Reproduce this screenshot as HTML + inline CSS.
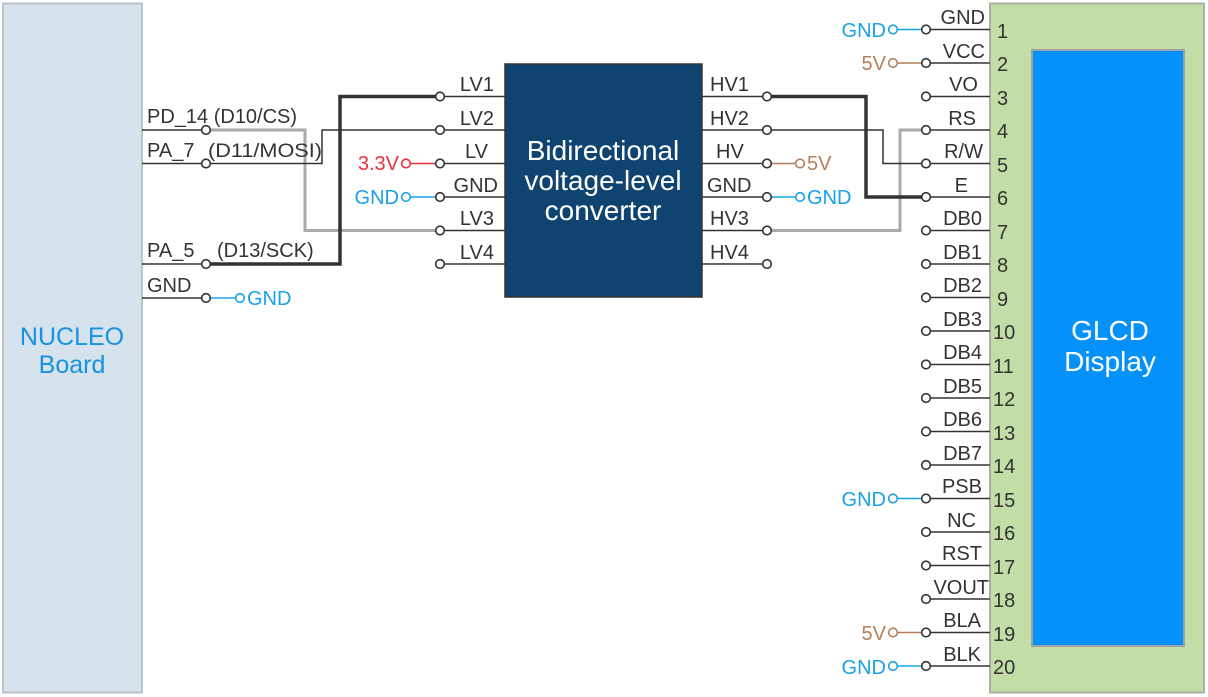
<!DOCTYPE html>
<html><head><meta charset="utf-8"><style>
html,body{margin:0;padding:0;background:#fff}
svg{display:block;font-family:"Liberation Sans",Arial,sans-serif}
</style></head><body>
<svg width="1208" height="697" viewBox="0 0 1208 697" xmlns="http://www.w3.org/2000/svg">
<rect x="3" y="3.5" width="139" height="689" fill="#d6e2ec" stroke="#bcc3c8" stroke-width="2"/>
<text x="72" y="345" font-size="25" fill="#1592e0" text-anchor="middle">NUCLEO</text>
<text x="72" y="373" font-size="25" fill="#1592e0" text-anchor="middle">Board</text>

<rect x="505" y="64" width="197" height="233" fill="#0f4470" stroke="#333" stroke-width="1.5"/>
<g font-size="28" fill="#fff" text-anchor="middle">
<text x="603" y="160">Bidirectional</text>
<text x="603" y="190">voltage-level</text>
<text x="603" y="220">converter</text>
</g>

<rect x="990" y="3.5" width="214" height="689" fill="#c2dea6" stroke="#a9b0a4" stroke-width="2"/>
<rect x="1032" y="50" width="152" height="596" fill="#0591fa" stroke="#a0a0a0" stroke-width="2"/>
<text x="1110" y="340" font-size="28" fill="#fff" text-anchor="middle">GLCD</text>
<text x="1110" y="371" font-size="28" fill="#fff" text-anchor="middle">Display</text>

<g fill="none" stroke-linejoin="miter">
<polyline points="206,130 305,130 305,230.5 440,230.5" stroke="#aaa" stroke-width="3"/>
<polyline points="206,163.5 322,163.5 322,130 440,130" stroke="#333" stroke-width="1.5"/>
<polyline points="206,264 340,264 340,96.5 440,96.5" stroke="#333" stroke-width="3.5"/>
<polyline points="767,230.5 900,230.5 900,130 926,130" stroke="#aaa" stroke-width="3"/>
<polyline points="767,130 883,130 883,163.5 926,163.5" stroke="#333" stroke-width="1.5"/>
<polyline points="767,96.5 866,96.5 866,197 926,197" stroke="#333" stroke-width="3.5"/>
</g>

<g stroke="#333" stroke-width="1.5">
<line x1="142" y1="130" x2="206" y2="130"/>
<line x1="142" y1="163.5" x2="206" y2="163.5"/>
<line x1="142" y1="264" x2="206" y2="264"/>
<line x1="142" y1="298" x2="206" y2="298"/>
<line x1="440" y1="96.5" x2="505" y2="96.5"/>
<line x1="440" y1="130" x2="505" y2="130"/>
<line x1="440" y1="163.5" x2="505" y2="163.5"/>
<line x1="440" y1="197" x2="505" y2="197"/>
<line x1="440" y1="230.5" x2="505" y2="230.5"/>
<line x1="440" y1="264" x2="505" y2="264"/>
<line x1="702" y1="96.5" x2="767" y2="96.5"/>
<line x1="702" y1="130" x2="767" y2="130"/>
<line x1="702" y1="163.5" x2="767" y2="163.5"/>
<line x1="702" y1="197" x2="767" y2="197"/>
<line x1="702" y1="230.5" x2="767" y2="230.5"/>
<line x1="702" y1="264" x2="767" y2="264"/>
</g>
<g stroke="#333" stroke-width="1.5">
<line x1="926" y1="29.5" x2="990" y2="29.5"/><line x1="926" y1="63" x2="990" y2="63"/>
<line x1="926" y1="96.5" x2="990" y2="96.5"/><line x1="926" y1="130" x2="990" y2="130"/>
<line x1="926" y1="163.5" x2="990" y2="163.5"/><line x1="926" y1="197" x2="990" y2="197"/>
<line x1="926" y1="230.5" x2="990" y2="230.5"/><line x1="926" y1="264" x2="990" y2="264"/>
<line x1="926" y1="297.5" x2="990" y2="297.5"/><line x1="926" y1="331" x2="990" y2="331"/>
<line x1="926" y1="364.5" x2="990" y2="364.5"/><line x1="926" y1="398" x2="990" y2="398"/>
<line x1="926" y1="431.5" x2="990" y2="431.5"/><line x1="926" y1="465" x2="990" y2="465"/>
<line x1="926" y1="498.5" x2="990" y2="498.5"/><line x1="926" y1="532" x2="990" y2="532"/>
<line x1="926" y1="565.5" x2="990" y2="565.5"/><line x1="926" y1="599" x2="990" y2="599"/>
<line x1="926" y1="632.5" x2="990" y2="632.5"/><line x1="926" y1="666" x2="990" y2="666"/>
</g>

<g stroke-width="1.5">
<line x1="206" y1="298" x2="240" y2="298" stroke="#19a3e6"/>
<line x1="406" y1="163.5" x2="440" y2="163.5" stroke="#e8303a"/>
<line x1="406" y1="197" x2="440" y2="197" stroke="#19a3e6"/>
<line x1="767" y1="163.5" x2="800" y2="163.5" stroke="#b57f5a"/>
<line x1="767" y1="197" x2="800" y2="197" stroke="#19a3e6"/>
<line x1="893" y1="29.5" x2="926" y2="29.5" stroke="#19a3e6"/>
<line x1="893" y1="63" x2="926" y2="63" stroke="#b57f5a"/>
<line x1="893" y1="498.5" x2="926" y2="498.5" stroke="#19a3e6"/>
<line x1="893" y1="632.5" x2="926" y2="632.5" stroke="#b57f5a"/>
<line x1="893" y1="666" x2="926" y2="666" stroke="#19a3e6"/>
</g>

<g fill="#fff" stroke="#333" stroke-width="1.6">
<circle cx="206" cy="130" r="4.3"/><circle cx="206" cy="163.5" r="4.3"/>
<circle cx="206" cy="264" r="4.3"/><circle cx="206" cy="298" r="4.3"/>
<circle cx="440" cy="96.5" r="4.3"/><circle cx="440" cy="130" r="4.3"/>
<circle cx="440" cy="163.5" r="4.3"/><circle cx="440" cy="197" r="4.3"/>
<circle cx="440" cy="230.5" r="4.3"/><circle cx="440" cy="264" r="4.3"/>
<circle cx="767" cy="96.5" r="4.3"/><circle cx="767" cy="130" r="4.3"/>
<circle cx="767" cy="163.5" r="4.3"/><circle cx="767" cy="197" r="4.3"/>
<circle cx="767" cy="230.5" r="4.3"/><circle cx="767" cy="264" r="4.3"/>
<circle cx="926" cy="29.5" r="4.3"/><circle cx="926" cy="63" r="4.3"/>
<circle cx="926" cy="96.5" r="4.3"/><circle cx="926" cy="130" r="4.3"/>
<circle cx="926" cy="163.5" r="4.3"/><circle cx="926" cy="197" r="4.3"/>
<circle cx="926" cy="230.5" r="4.3"/><circle cx="926" cy="264" r="4.3"/>
<circle cx="926" cy="297.5" r="4.3"/><circle cx="926" cy="331" r="4.3"/>
<circle cx="926" cy="364.5" r="4.3"/><circle cx="926" cy="398" r="4.3"/>
<circle cx="926" cy="431.5" r="4.3"/><circle cx="926" cy="465" r="4.3"/>
<circle cx="926" cy="498.5" r="4.3"/><circle cx="926" cy="532" r="4.3"/>
<circle cx="926" cy="565.5" r="4.3"/><circle cx="926" cy="599" r="4.3"/>
<circle cx="926" cy="632.5" r="4.3"/><circle cx="926" cy="666" r="4.3"/>
</g>
<g fill="#fff" stroke-width="1.6">
<circle cx="240" cy="298" r="4.3" stroke="#19a3e6"/>
<circle cx="406" cy="163.5" r="4.3" stroke="#e8303a"/>
<circle cx="406" cy="197" r="4.3" stroke="#19a3e6"/>
<circle cx="800" cy="163.5" r="4.3" stroke="#b57f5a"/>
<circle cx="800" cy="197" r="4.3" stroke="#19a3e6"/>
<circle cx="893" cy="29.5" r="4.3" stroke="#19a3e6"/>
<circle cx="893" cy="63" r="4.3" stroke="#b57f5a"/>
<circle cx="893" cy="498.5" r="4.3" stroke="#19a3e6"/>
<circle cx="893" cy="632.5" r="4.3" stroke="#b57f5a"/>
<circle cx="893" cy="666" r="4.3" stroke="#19a3e6"/>
</g>

<g font-size="20" fill="#333">
<text x="147" y="123">PD_14 (D10/CS)</text>
<text x="147" y="157">PA_7</text>
<text x="208" y="157" font-size="19" textLength="114" lengthAdjust="spacingAndGlyphs">(D11/MOSI)</text>
<text x="147" y="257">PA_5</text>
<text x="217" y="257">(D13/SCK)</text>
<text x="147" y="292">GND</text>
</g>
<text x="247" y="305" font-size="20" fill="#19a3e6">GND</text>
<text x="399" y="170" font-size="20" fill="#e8303a" text-anchor="end">3.3V</text>
<text x="399" y="204" font-size="20" fill="#19a3e6" text-anchor="end">GND</text>
<text x="807" y="170" font-size="20" fill="#b57f5a">5V</text>
<text x="807" y="204" font-size="20" fill="#19a3e6">GND</text>

<g font-size="20" fill="#333" text-anchor="end">
<text x="494" y="91">LV1</text><text x="494" y="125">LV2</text>
<text x="488" y="158">LV</text><text x="498" y="192">GND</text>
<text x="494" y="225">LV3</text><text x="494" y="259">LV4</text>
</g>
<g font-size="20" fill="#333">
<text x="710" y="91">HV1</text><text x="710" y="125">HV2</text>
<text x="716" y="158">HV</text><text x="707" y="192">GND</text>
<text x="710" y="225">HV3</text><text x="710" y="259">HV4</text>
</g>

<g font-size="20" fill="#333" text-anchor="end">
<text x="985" y="24">GND</text><text x="985" y="58">VCC</text>
<text x="978" y="91">VO</text><text x="976" y="125">RS</text>
<text x="983" y="158">R/W</text><text x="968" y="192">E</text>
<text x="982" y="225">DB0</text><text x="982" y="259">DB1</text>
<text x="982" y="292">DB2</text><text x="982" y="326">DB3</text>
<text x="982" y="359">DB4</text><text x="982" y="393">DB5</text>
<text x="982" y="426">DB6</text><text x="982" y="460">DB7</text>
<text x="982" y="493">PSB</text><text x="976" y="527">NC</text>
<text x="982" y="560">RST</text><text x="989" y="594">VOUT</text>
<text x="981" y="627">BLA</text><text x="981" y="661">BLK</text>
</g>
<g font-size="20" fill="#19a3e6" text-anchor="end">
<text x="886" y="37">GND</text><text x="886" y="506">GND</text><text x="886" y="674">GND</text>
</g>
<g font-size="20" fill="#b57f5a" text-anchor="end">
<text x="886" y="70">5V</text><text x="886" y="640">5V</text>
</g>
<g font-size="20" fill="#333">
<text x="997" y="38">1</text><text x="997" y="71">2</text><text x="997" y="105">3</text>
<text x="997" y="138">4</text><text x="997" y="172">5</text><text x="997" y="205">6</text>
<text x="997" y="239">7</text><text x="997" y="272">8</text><text x="997" y="306">9</text>
<text x="993" y="339">10</text><text x="993" y="373">11</text><text x="993" y="406">12</text>
<text x="993" y="440">13</text><text x="993" y="473">14</text><text x="993" y="507">15</text>
<text x="993" y="540">16</text><text x="993" y="574">17</text><text x="993" y="607">18</text>
<text x="993" y="641">19</text><text x="993" y="674">20</text>
</g>
</svg>
</body></html>
